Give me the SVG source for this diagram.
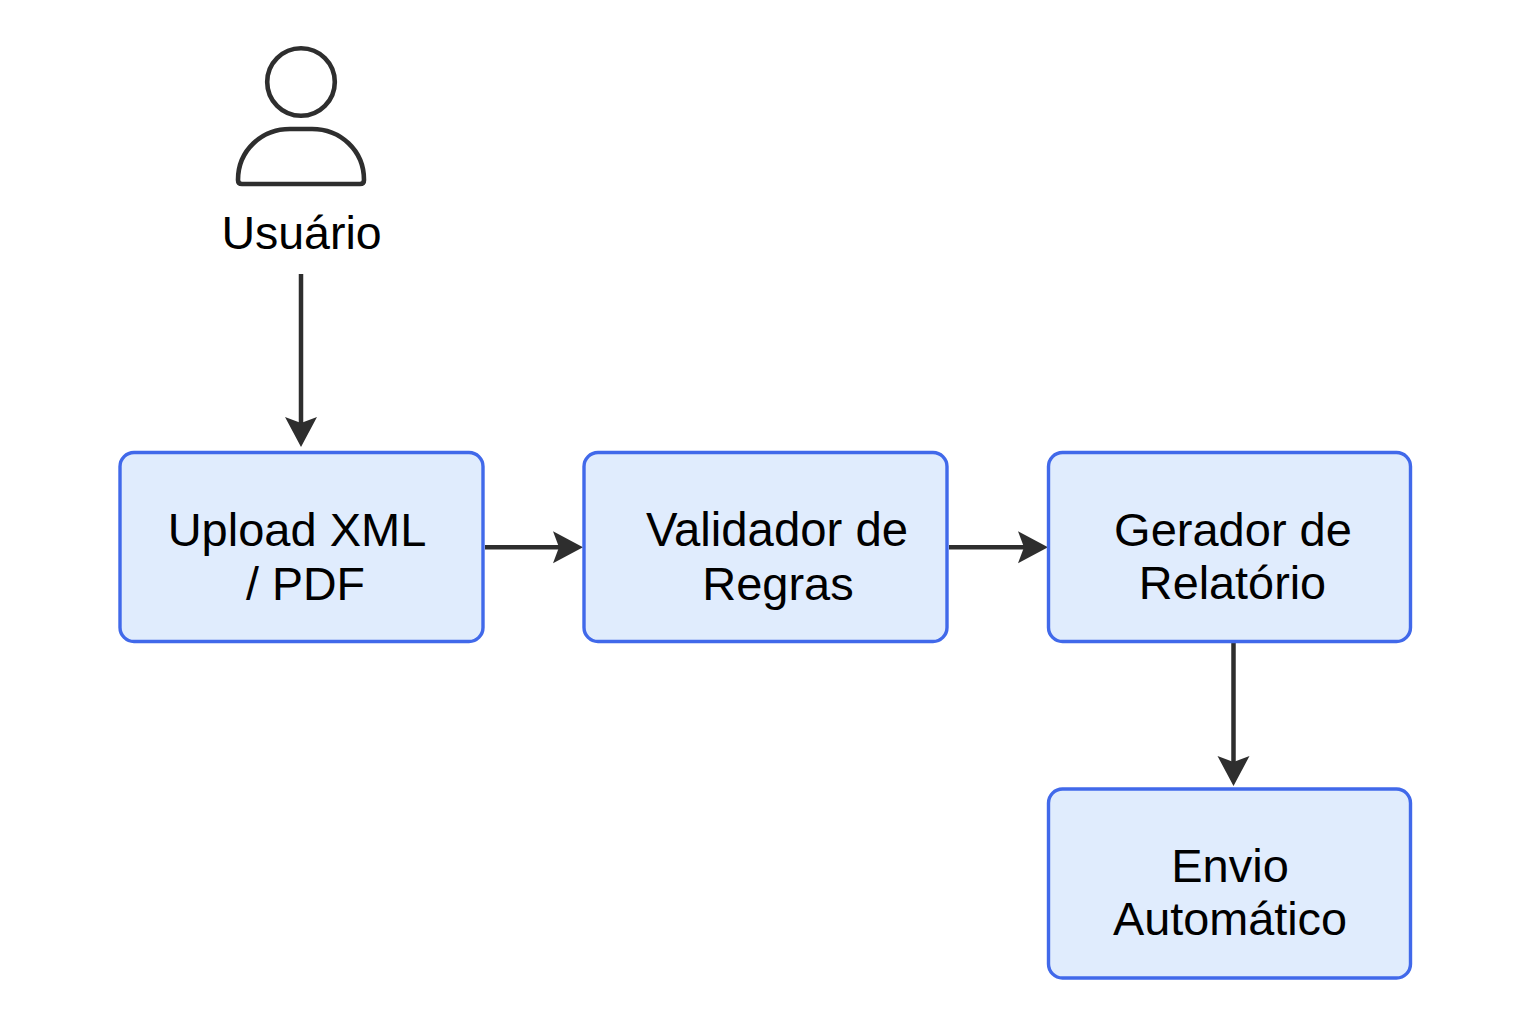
<svg xmlns="http://www.w3.org/2000/svg" width="1536" height="1024" viewBox="0 0 1536 1024">
<style>
.box{fill:#e0ecfd;stroke:#4169ea;stroke-width:3.4}
.lbl{font-family:"Liberation Sans",Arial,sans-serif;font-size:47px;fill:#000;text-anchor:middle}
.line{fill:none;stroke:#2e2e2e;stroke-width:4.5}
.icon{fill:#fff;stroke:#2e2e2e;stroke-width:4.6;stroke-linejoin:round}
</style>
<defs><marker id="arr" markerUnits="userSpaceOnUse" markerWidth="34" markerHeight="34" refX="8" refY="16" orient="auto"><path d="M0 0L30 16L0 32L6 16Z" fill="#2e2e2e"/></marker></defs>
<rect width="1536" height="1024" fill="#fff"/>
<g id="connectors">
<path class="line" d="M301 274V425" marker-end="url(#arr)"/>
<path class="line" d="M485 547.300H561" marker-end="url(#arr)"/>
<path class="line" d="M949 547.300H1026" marker-end="url(#arr)"/>
<path class="line" d="M1233.500 643V764" marker-end="url(#arr)"/>
</g>
<g id="usuario">
<circle class="icon" cx="301" cy="82" r="33.800"/>
<path class="icon" d="M238 180C238 150 262 129 290 129H312C340 129 364 150 364 180Q364 184 360 184H242Q238 184 238 180Z"/>
<text class="lbl" x="301.500" y="248.500" style="font-size:46.500px">Usuário</text>
</g>
<g id="upload"><rect class="box" x="120" y="452.500" width="363" height="189" rx="14"/><text class="lbl" x="297" y="545.500">Upload XML</text><text class="lbl" x="305.500" y="599.500" style="font-size:46.500px">/ PDF</text></g>
<g id="validador"><rect class="box" x="584" y="452.500" width="363" height="189" rx="14"/><text class="lbl" x="777" y="545.500" style="font-size:47.300px">Validador de</text><text class="lbl" x="778" y="599.500">Regras</text></g>
<g id="gerador"><rect class="box" x="1048.500" y="452.500" width="362" height="189" rx="14"/><text class="lbl" x="1233" y="545.500">Gerador de</text><text class="lbl" x="1232.500" y="599" style="font-size:46.800px">Relatório</text></g>
<g id="envio"><rect class="box" x="1048.500" y="789" width="362" height="189" rx="14"/><text class="lbl" x="1230" y="881.500">Envio</text><text class="lbl" x="1230" y="934.500" style="font-size:46.800px">Automático</text></g>
</svg>
